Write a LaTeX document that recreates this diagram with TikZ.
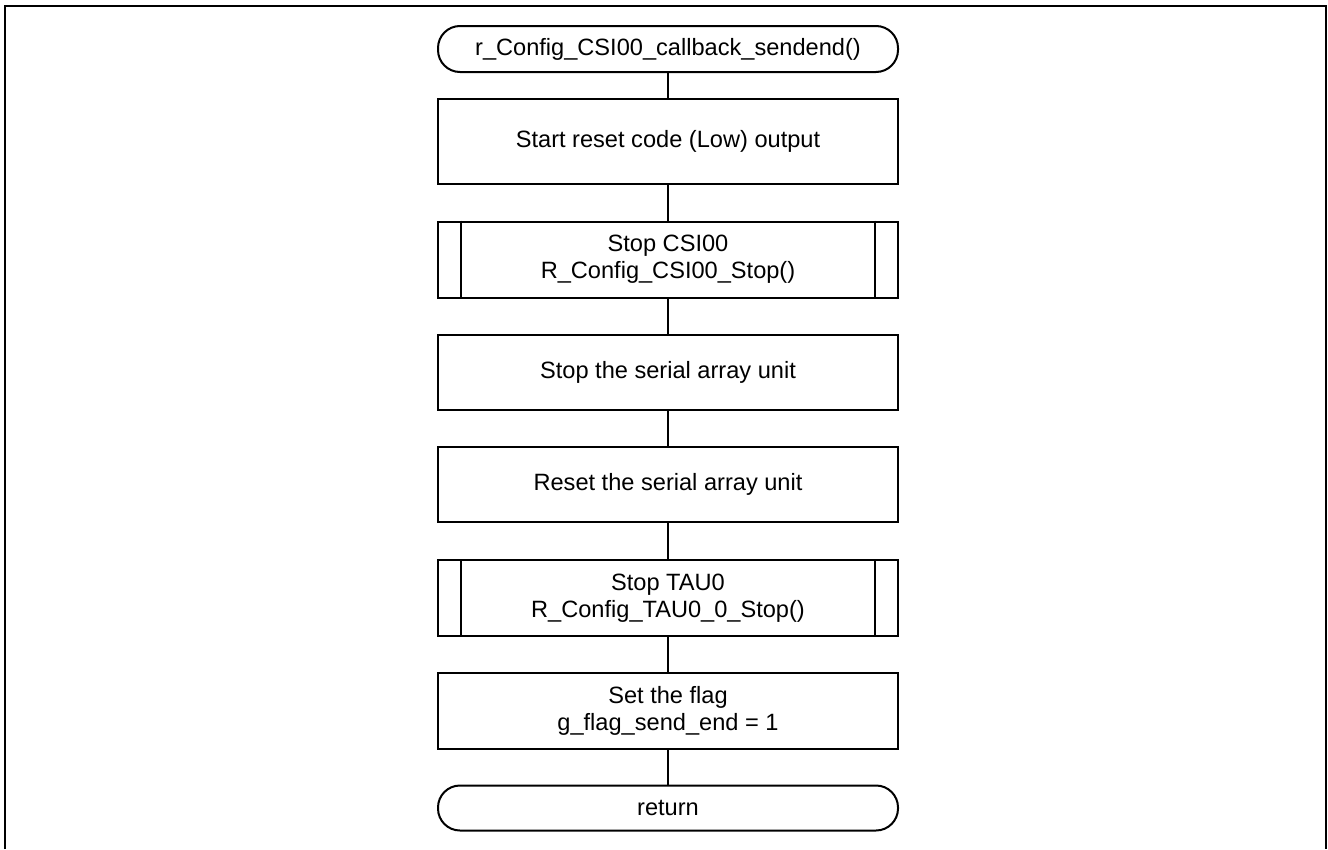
\documentclass[tikz,border=0pt]{standalone}
\usepackage{fontspec}
\setmainfont{Liberation Sans}
\usetikzlibrary{calc}
\begin{document}
\begin{tikzpicture}[x=1pt,y=-1pt,
  every node/.style={font=\fontsize{23.6}{27}\selectfont},
  proc/.style={draw, line width=2pt, minimum width=460pt, align=center, inner sep=0pt},
  term/.style={draw, line width=2pt, rounded corners=22pt, minimum width=460pt, align=center, inner sep=0pt},
  conn/.style={line width=2pt},
  frame/.style={line width=2pt}]
\useasboundingbox (0,0) rectangle (1328,849);
\draw[frame] (5,849) -- (5,6) -- (1326,6) -- (1326,849);
\node[term, minimum height=46pt] (start) at (668,49) {r\_Config\_CSI00\_callback\_sendend()};
\node[proc, minimum height=85pt] (b1) at (668,141.5) {Start reset code (Low) output};
\node[proc, minimum height=76pt] (b2) at (668,259.5) {Stop CSI00\\R\_Config\_CSI00\_Stop()};
\node[proc, minimum height=75pt] (b3) at (668,372.5) {Stop the serial array unit};
\node[proc, minimum height=75pt] (b4) at (668,484.5) {Reset the serial array unit};
\node[proc, minimum height=76pt] (b5) at (668,598) {Stop TAU0\\R\_Config\_TAU0\_0\_Stop()};
\node[proc, minimum height=76pt] (b6) at (668,711) {Set the flag\\g\_flag\_send\_end = 1};
\node[term, minimum height=45pt] (ret) at (668,808) {return};
\foreach \n in {b2,b5}{
  \draw[conn] ($(\n.north west)+(24,0)$) -- ($(\n.south west)+(24,0)$);
  \draw[conn] ($(\n.north east)+(-24,0)$) -- ($(\n.south east)+(-24,0)$);
}
\draw[conn] (start) -- (b1);
\draw[conn] (b1) -- (b2);
\draw[conn] (b2) -- (b3);
\draw[conn] (b3) -- (b4);
\draw[conn] (b4) -- (b5);
\draw[conn] (b5) -- (b6);
\draw[conn] (b6) -- (ret);
\end{tikzpicture}
\end{document}
